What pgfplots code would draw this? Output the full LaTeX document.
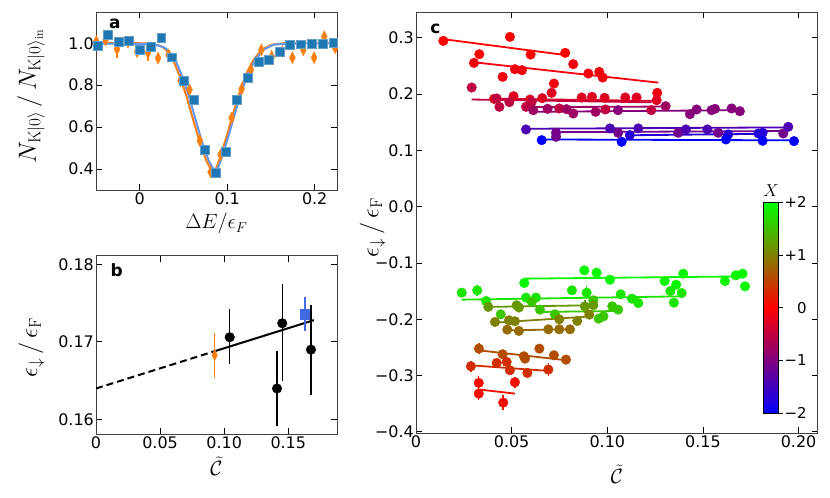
\documentclass[border=0pt]{standalone}
\usepackage[no-math]{fontspec}
\setmainfont{DejaVu Sans}
\usepackage{pgfplots}
\pgfplotsset{compat=1.18}
\usetikzlibrary{calc}
\definecolor{tabblue}{RGB}{31,119,180}
\definecolor{taborange}{RGB}{255,127,14}
\definecolor{cfblue}{RGB}{100,149,237}
\definecolor{royal}{RGB}{65,105,225}
% colours of panel c (X mapped blue -> red -> green)
\definecolor{s1}{rgb}{1,0,0}
\definecolor{s2}{rgb}{0.95,0,0.05}
\definecolor{s3}{rgb}{0.87,0,0.13}
\definecolor{s4}{rgb}{0.75,0,0.25}
\definecolor{s5}{rgb}{0.62,0,0.38}
\definecolor{s6}{rgb}{0.52,0,0.48}
\definecolor{s7}{rgb}{0.3,0,0.7}
\definecolor{s8}{rgb}{0.45,0,0.55}
\definecolor{s9}{rgb}{0.15,0,0.85}
\definecolor{s10}{rgb}{0,0,1}
\definecolor{g1}{rgb}{0.03,0.97,0}
\definecolor{g2}{rgb}{0.1,0.9,0}
\definecolor{g3}{rgb}{0.22,0.78,0}
\definecolor{g4}{rgb}{0.4,0.6,0}
\definecolor{g5}{rgb}{0.5,0.5,0}
\definecolor{g6}{rgb}{0.58,0.42,0}
\definecolor{r1}{rgb}{0.7,0.3,0}
\definecolor{r2}{rgb}{0.82,0.18,0}
\definecolor{r3}{rgb}{0.95,0.05,0}
\newcommand{\tfont}{\fontsize{16}{19}\selectfont}
\newcommand{\lfont}{\fontsize{22}{26}\selectfont}
\pgfplotsset{
  myax/.style={scale only axis, tick align=inside, major tick length=6bp,
    scaled ticks=false,
    ticklabel style={font=\tfont, inner sep=2bp},
    axis line style={line width=0.9bp, black!75},
    every tick/.style={black, line width=0.8bp}},
  cp/.style={only marks, mark=*, mark size=4.8bp, color=#1,
    error bars/.cd, y dir=both, y explicit, error mark=none,
    error bar style={line width=1.5bp}},
  cl/.style={color=#1, line width=1.8bp},
}
\begin{document}
\begin{tikzpicture}
% ---------------- panel a
\begin{axis}[myax, at={(96bp,308bp)}, anchor=south west,
  width=241bp, height=178bp,
  xmin=-0.05, xmax=0.2255, ymin=0.30, ymax=1.149,
  xtick={0,0.1,0.2}, xticklabels={0,0.1,0.2},
  ytick={0.4,0.6,0.8,1.0}, yticklabels={0.4,0.6,0.8,1.0},
  xlabel={$\Delta E/\epsilon_F$},
  ylabel={$N_{\mathrm{K}|0\rangle}\,/\,N_{\mathrm{K}|0\rangle_{\mathrm{in}}}$},
  every axis x label/.style={at={(axis description cs:0.5,-0.19)}, anchor=center, inner sep=0pt, font=\lfont},
  every axis y label/.style={at={(axis description cs:-0.27,0.528)}, rotate=90, anchor=center, inner sep=0pt, font=\fontsize{24}{28}\selectfont}]
\addplot[taborange, line width=2bp] coordinates {
(-0.05,1.0) (0.0,1.0) (0.015,0.997) (0.025,0.985) (0.0305,0.967) (0.038,0.922)
(0.0458,0.842) (0.0535,0.746) (0.061,0.636) (0.0687,0.525) (0.0764,0.437)
(0.081,0.402) (0.0845,0.393) (0.0875,0.405) (0.0916,0.452) (0.0993,0.555)
(0.1069,0.667) (0.1145,0.770) (0.122,0.857) (0.130,0.920) (0.139,0.968)
(0.151,0.993) (0.165,1.0) (0.2255,1.0)};
\addplot[cfblue, line width=2bp] coordinates {
(-0.05,0.998) (0.0,0.997) (0.018,0.993) (0.028,0.98) (0.0333,0.963) (0.0408,0.92)
(0.0486,0.842) (0.0563,0.746) (0.0638,0.636) (0.0715,0.525) (0.0792,0.437)
(0.0836,0.404) (0.0867,0.396) (0.0896,0.407) (0.0936,0.452) (0.1013,0.555)
(0.1089,0.667) (0.1165,0.770) (0.124,0.857) (0.132,0.920) (0.141,0.968)
(0.153,0.993) (0.167,0.998) (0.2255,1.0)};
\addplot[only marks, mark=diamond*, mark size=6bp, color=taborange,
  mark options={xscale=0.65},
  error bars/.cd, y dir=both, y explicit, error mark=none,
  error bar style={line width=1.3bp}]
  table[x index=0, y index=1, y error index=2, row sep=\\] {
-0.0496 1.008 0.02\\ -0.0390 1.016 0.02\\ -0.0260 0.971 0.04\\ -0.0134 1.005 0.02\\
-0.0030 0.960 0.02\\ 0.0095 0.955 0.04\\ 0.0210 0.929 0.015\\ 0.0330 0.944 0.02\\
0.0466 0.822 0.015\\ 0.0569 0.778 0.02\\ 0.0687 0.535 0.015\\ 0.0810 0.386 0.015\\
0.0924 0.468 0.015\\ 0.1050 0.643 0.015\\ 0.1165 0.782 0.015\\ 0.1270 0.873 0.015\\
0.1390 0.968 0.03\\ 0.1510 0.936 0.03\\ 0.1630 0.960 0.02\\ 0.1745 0.931 0.02\\
0.1870 0.968 0.02\\ 0.1993 0.931 0.02\\ 0.2110 1.031 0.02\\ 0.2234 0.978 0.02\\
};
\addplot[only marks, mark=square*, mark size=4.4bp, color=tabblue,
  mark options={draw=tabblue!70!white, line width=0.7bp},
  error bars/.cd, y dir=both, y explicit, error mark=none,
  error bar style={line width=1.3bp, color=tabblue}]
  table[x index=0, y index=1, y error index=2, row sep=\\] {
-0.0478 0.987 0.01\\ -0.0363 1.040 0.01\\ -0.0237 1.005 0.01\\ -0.0122 1.011 0.015\\
0.0000 0.970 0.01\\ 0.0126 0.981 0.01\\ 0.0248 1.024 0.01\\ 0.0370 0.933 0.01\\
0.0500 0.819 0.01\\ 0.0622 0.729 0.02\\ 0.0745 0.492 0.01\\ 0.0867 0.382 0.01\\
0.0985 0.482 0.01\\ 0.1110 0.730 0.01\\ 0.1233 0.833 0.01\\ 0.1360 0.910 0.01\\
0.1480 0.920 0.015\\ 0.1600 0.959 0.01\\ 0.1720 0.993 0.01\\ 0.1844 0.995 0.01\\
0.1970 0.998 0.01\\ 0.2090 0.998 0.01\\ 0.2214 1.003 0.01\\
};
\node[anchor=base west, font=\bfseries\fontsize{17}{17}\selectfont] at (rel axis cs:0.04,0.905) {a};
\end{axis}
% ---------------- panel b
\begin{axis}[myax, at={(96bp,63.7bp)}, anchor=south west,
  width=241bp, height=178.6bp,
  xmin=0, xmax=0.188, ymin=0.1581, ymax=0.1811,
  xtick={0,0.05,0.10,0.15}, xticklabels={0,0.05,0.10,0.15},
  ytick={0.16,0.17,0.18}, yticklabels={0.16,0.17,0.18},
  xlabel={$\tilde{\mathcal{C}}$},
  ylabel={$\epsilon_{\downarrow}\,/\,\epsilon_{\mathrm{F}}$},
  every axis x label/.style={at={(axis description cs:0.5,-0.178)}, anchor=center, inner sep=0pt, font=\lfont},
  every axis y label/.style={at={(axis description cs:-0.268,0.486)}, rotate=90, anchor=center, inner sep=0pt, font=\fontsize{23}{28}\selectfont}]
\addplot[black, line width=2bp, dash pattern=on 7bp off 4bp] coordinates {(0,0.1640) (0.0926,0.1688)};
\addplot[black, line width=2bp] coordinates {(0.0926,0.1688) (0.1700,0.1728)};
\addplot[only marks, mark=*, mark size=4.8bp, color=black,
  error bars/.cd, y dir=both, y explicit, error mark=none,
  error bar style={line width=1.5bp}]
  table[x index=0, y index=1, y error plus index=2, y error minus index=3, row sep=\\] {
0.1043 0.1706 0.0036 0.0035\\ 0.1412 0.1640 0.0048 0.0048\\
0.1453 0.1724 0.0051 0.0075\\ 0.1677 0.1690 0.0058 0.0059\\
};
\addplot[only marks, mark=diamond*, mark size=5.5bp, color=taborange,
  mark options={xscale=0.65},
  error bars/.cd, y dir=both, y explicit, error mark=none,
  error bar style={line width=1.5bp}]
  table[x index=0, y index=1, y error index=2, row sep=\\] {
0.0926 0.1683 0.0029\\
};
\addplot[only marks, mark=square*, mark size=4.6bp, color=royal,
  error bars/.cd, y dir=both, y explicit, error mark=none,
  error bar style={line width=1.5bp}]
  table[x index=0, y index=1, y error index=2, row sep=\\] {
0.1630 0.17356 0.0022\\
};
\node[anchor=base west, font=\bfseries\fontsize{17}{17}\selectfont] at (rel axis cs:0.046,0.881) {b};
\end{axis}
% ---------------- panel c
\begin{axis}[myax, at={(416bp,65bp)}, anchor=south west,
  width=401.7bp, height=421bp,
  xmin=0, xmax=0.21, ymin=-0.402, ymax=0.346,
  xtick={0,0.05,0.10,0.15,0.20}, xticklabels={0,0.05,0.10,0.15,0.20},
  ytick={-0.4,-0.3,-0.2,-0.1,0,0.1,0.2,0.3},
  yticklabels={−0.4,−0.3,−0.2,−0.1,0.0,0.1,0.2,0.3},
  xlabel={$\tilde{\mathcal{C}}$},
  ylabel={$\epsilon_{\downarrow}\,/\,\epsilon_{\mathrm{F}}$},
  every axis x label/.style={at={(axis description cs:0.5,-0.097)}, anchor=center, inner sep=0pt, font=\lfont},
  every axis y label/.style={at={(axis description cs:-0.108,0.488)}, rotate=90, anchor=center, inner sep=0pt, font=\fontsize{23}{28}\selectfont},
  colormap={bgr}{rgb=(0,0,1) rgb=(1,0,0) rgb=(0,1,0)},
  point meta min=-2, point meta max=2,
  colorbar,
  colorbar style={at={($(parent axis.south west)+(339.3bp,19.7bp)$)}, anchor=south west,
    scale only axis, width=14.7bp, height=211bp,
    ytick={-2,-1,0,1,2}, yticklabels={−2,−1,\hphantom{+}0,+1,+2},
    yticklabel pos=right, ytick pos=right, tick align=outside, major tick length=4bp,
    yticklabel style={font=\fontsize{15}{18}\selectfont, anchor=west},
    axis line style={line width=0.8bp, black},
    title={$X$}, title style={font=\fontsize{16}{18}\selectfont, yshift=-4bp}}]
% upper cluster
\addplot[cl=s1] coordinates {(0.016,0.297) (0.077,0.270)};
\addplot[cp=s1] table[x index=0,y index=1,y error index=2,row sep=\\] {
0.0143 0.2947 0.006\\ 0.0331 0.2710 0.007\\ 0.0491 0.3018 0.005\\ 0.0599 0.2704 0.004\\ 0.0780 0.2734 0.004\\};
\addplot[cl=s2] coordinates {(0.0308,0.2565) (0.1267,0.2205)};
\addplot[cp=s2] table[x index=0,y index=1,y error index=2,row sep=\\] {
0.0303 0.2556 0.004\\ 0.0453 0.2308 0.008\\ 0.0517 0.2444 0.004\\ 0.0554 0.2426 0.006\\
0.0721 0.2189 0.007\\ 0.0822 0.2533 0.004\\ 0.0901 0.2367 0.004\\ 0.0958 0.2396 0.005\\
0.0976 0.2296 0.004\\ 0.1261 0.2024 0.006\\};
\addplot[cl=s3] coordinates {(0.0408,0.1920) (0.1258,0.1880)};
\addplot[cp=s3] table[x index=0,y index=1,y error index=2,row sep=\\] {
0.0408 0.1917 0.004\\ 0.0510 0.1964 0.004\\ 0.0596 0.1905 0.005\\ 0.0660 0.1929 0.006\\
0.0709 0.2024 0.006\\ 0.0866 0.1941 0.004\\ 0.0920 0.1953 0.006\\ 0.0986 0.1935 0.004\\
0.1094 0.1941 0.004\\ 0.1153 0.1941 0.006\\ 0.1258 0.1893 0.005\\};
\addplot[cl=s4] coordinates {(0.0291,0.1905) (0.1230,0.1855)};
\addplot[cp=s4] table[x index=0,y index=1,y error index=2,row sep=\\] {
0.0291 0.2118 0.008\\ 0.0422 0.1923 0.004\\ 0.0436 0.1775 0.005\\ 0.0488 0.1858 0.004\\
0.0605 0.1864 0.004\\ 0.0575 0.1775 0.004\\ 0.0749 0.1746 0.004\\ 0.0990 0.1728 0.004\\
0.1230 0.1716 0.004\\};
\addplot[cl=s5] coordinates {(0.0587,0.1770) (0.1305,0.1780)};
\addplot[cp=s5] table[x index=0,y index=1,y error index=2,row sep=\\] {
0.0613 0.1716 0.004\\ 0.0688 0.1740 0.004\\ 0.0787 0.1734 0.004\\ 0.0822 0.1657 0.004\\
0.0939 0.1686 0.004\\ 0.1305 0.1787 0.004\\};
\addplot[cl=s6] coordinates {(0.0590,0.1686) (0.1710,0.1716)};
\addplot[cp=s6] table[x index=0,y index=1,y error index=2,row sep=\\] {
0.1056 0.1716 0.004\\ 0.1432 0.1645 0.004\\ 0.1467 0.1728 0.004\\ 0.1545 0.1716 0.004\\
0.1563 0.1740 0.004\\ 0.1650 0.1746 0.004\\ 0.1693 0.1698 0.004\\};
\addplot[cl=s8] coordinates {(0.0725,0.1325) (0.1920,0.1345)};
\addplot[cp=s8] table[x index=0,y index=1,y error index=2,row sep=\\] {
0.0732 0.1314 0.004\\ 0.0732 0.1243 0.004\\ 0.1057 0.1314 0.004\\ 0.1371 0.1314 0.004\\
0.1580 0.1314 0.004\\ 0.1920 0.1302 0.004\\};
\addplot[cl=s7] coordinates {(0.0561,0.1385) (0.1950,0.1410)};
\addplot[cp=s7] table[x index=0,y index=1,y error index=2,row sep=\\] {
0.0575 0.1373 0.004\\ 0.1014 0.1391 0.004\\ 0.1162 0.1391 0.004\\ 0.1411 0.1373 0.004\\
0.1523 0.1373 0.004\\ 0.1946 0.1420 0.004\\};
\addplot[cl=s9] coordinates {(0.1118,0.1270) (0.1812,0.1295)};
\addplot[cp=s9] table[x index=0,y index=1,y error index=2,row sep=\\] {
0.1118 0.1272 0.004\\ 0.1632 0.1284 0.004\\ 0.1790 0.1302 0.004\\ 0.1812 0.1314 0.004\\};
\addplot[cl=s10] coordinates {(0.0657,0.1195) (0.1976,0.1180)};
\addplot[cp=s10] table[x index=0,y index=1,y error index=2,row sep=\\] {
0.0657 0.1183 0.004\\ 0.1075 0.1154 0.004\\ 0.1620 0.1195 0.004\\ 0.1812 0.1172 0.004\\
0.1976 0.1166 0.004\\};
% lower cluster
\addplot[cl=g1] coordinates {(0.0561,-0.1278) (0.1720,-0.1237)};
\addplot[cp=g1] table[x index=0,y index=1,y error index=2,row sep=\\] {
0.0566 -0.1355 0.004\\ 0.0880 -0.1130 0.004\\ 0.0944 -0.1172 0.004\\ 0.1014 -0.1296 0.004\\
0.1300 -0.1320 0.004\\ 0.1360 -0.1385 0.004\\ 0.1397 -0.1190 0.004\\ 0.1615 -0.1320 0.004\\
0.1672 -0.1219 0.004\\ 0.1707 -0.1190 0.004\\ 0.1720 -0.1414 0.004\\};
\addplot[cl=g2] coordinates {(0.0239,-0.1651) (0.1389,-0.1592)};
\addplot[cp=g2] table[x index=0,y index=1,y error index=2,row sep=\\] {
0.0239 -0.1527 0.004\\ 0.0320 -0.1485 0.010\\ 0.0366 -0.1675 0.007\\ 0.0575 -0.1615 0.004\\
0.0627 -0.1615 0.004\\ 0.0815 -0.1485 0.004\\ 0.0892 -0.1527 0.012\\ 0.1070 -0.1556 0.004\\
0.1129 -0.1633 0.004\\ 0.1162 -0.1710 0.004\\ 0.1330 -0.1497 0.004\\ 0.1348 -0.1704 0.004\\
0.1389 -0.1533 0.004\\};
\addplot[cl=g3] coordinates {(0.0630,-0.1870) (0.1066,-0.1852)};
\addplot[cp=g3] table[x index=0,y index=1,y error index=2,row sep=\\] {
0.0443 -0.1911 0.004\\ 0.0605 -0.1690 0.004\\ 0.0648 -0.1828 0.004\\ 0.0726 -0.1911 0.004\\
0.0927 -0.1663 0.004\\ 0.0955 -0.1988 0.004\\ 0.0980 -0.1947 0.004\\ 0.1026 -0.1769 0.004\\
0.1057 -0.1828 0.004\\};
\addplot[cl=g4] coordinates {(0.0378,-0.1780) (0.0927,-0.1750)};
\addplot[cp=g4] table[x index=0,y index=1,y error index=2,row sep=\\] {
0.0378 -0.1780 0.006\\ 0.0526 -0.1750 0.004\\ 0.0538 -0.1790 0.004\\ 0.0883 -0.1770 0.012\\
0.0927 -0.1750 0.004\\};
\addplot[cl=g5] coordinates {(0.0413,-0.2060) (0.0906,-0.1950)};
\addplot[cp=g5] table[x index=0,y index=1,y error index=2,row sep=\\] {
0.0413 -0.2047 0.004\\ 0.0486 -0.2018 0.004\\ 0.0517 -0.2035 0.004\\ 0.0749 -0.2000 0.004\\
0.0843 -0.2030 0.004\\ 0.0906 -0.1917 0.004\\};
\addplot[cl=g6] coordinates {(0.0477,-0.2195) (0.0805,-0.2178)};
\addplot[cp=g6] table[x index=0,y index=1,y error index=2,row sep=\\] {
0.0477 -0.2183 0.004\\ 0.0538 -0.2207 0.004\\ 0.0692 -0.2178 0.004\\ 0.0749 -0.2178 0.004\\
0.0805 -0.2178 0.004\\};
\addplot[cl=r1] coordinates {(0.0326,-0.2550) (0.0787,-0.2728)};
\addplot[cp=r1] table[x index=0,y index=1,y error index=2,row sep=\\] {
0.0329 -0.2521 0.010\\ 0.0453 -0.2621 0.004\\ 0.0564 -0.2657 0.004\\ 0.0570 -0.2698 0.008\\
0.0645 -0.2521 0.008\\ 0.0721 -0.2639 0.008\\ 0.0784 -0.2716 0.004\\};
\addplot[cl=r2] coordinates {(0.0286,-0.2817) (0.0692,-0.2917)};
\addplot[cp=r2] table[x index=0,y index=1,y error index=2,row sep=\\] {
0.0287 -0.2834 0.010\\ 0.0422 -0.2775 0.008\\ 0.0474 -0.2757 0.008\\ 0.0491 -0.2905 0.008\\
0.0582 -0.2953 0.008\\ 0.0692 -0.2893 0.012\\};
\addplot[cl=r3] coordinates {(0.0334,-0.3249) (0.0517,-0.3320)};
\addplot[cp=r3] table[x index=0,y index=1,y error index=2,row sep=\\] {
0.0328 -0.3130 0.012\\ 0.0328 -0.3320 0.012\\ 0.0517 -0.3118 0.010\\ 0.0456 -0.3480 0.014\\};
\node[anchor=base west, font=\bfseries\fontsize{17}{17}\selectfont] at (rel axis cs:0.027,0.949) {c};
\end{axis}
\pgfresetboundingbox
\path (0,0) rectangle (830bp,498bp);
\end{tikzpicture}
\end{document}
